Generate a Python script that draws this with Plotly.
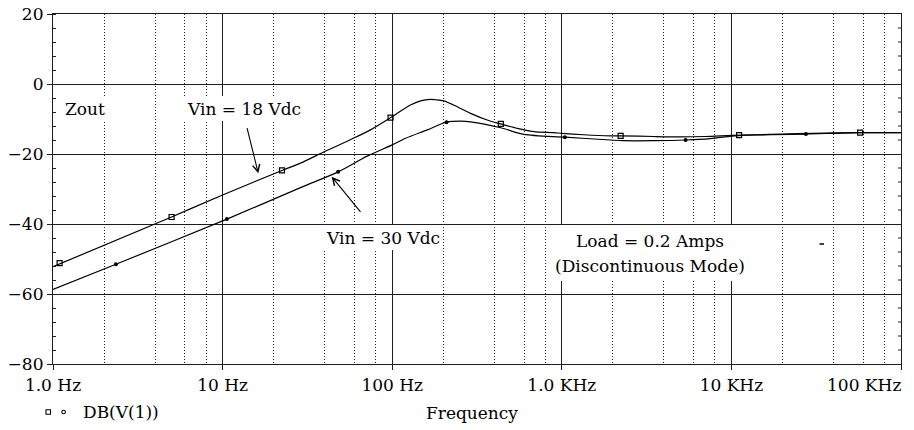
import plotly.graph_objects as go

# ---------------- data ----------------
freq_18 = [1, 5, 10, 22.4, 28.8, 40, 55, 74.5, 98, 128, 147, 168, 180, 201, 242, 290,
           363, 437, 546, 685, 898, 1000, 1350, 1940, 2223, 3500, 5000, 7000, 10000,
           14000, 20000, 30000, 57400, 100000]
db_18 = [-52.2, -38.0, -31.7, -24.7, -22.6, -19.3, -16.2, -13.1, -9.6, -6.0, -4.8, -4.4,
         -4.5, -4.8, -6.5, -8.4, -10.3, -11.4, -12.7, -13.6, -13.9, -14.1, -14.5, -14.8,
         -14.8, -15.0, -15.1, -15.0, -14.7, -14.5, -14.3, -14.1, -13.9, -13.9]

freq_30 = [1, 2.35, 10.6, 28.8, 48, 71.2, 100, 120, 161, 209, 253, 290, 437, 598, 1043,
           1940, 2300, 3500, 5370, 7500, 10000, 12000, 17000, 27500, 57400, 100000]
db_30 = [-58.7, -51.5, -38.6, -29.6, -25.1, -20.6, -17.4, -15.5, -13.1, -10.9, -10.6,
         -10.8, -12.5, -14.4, -15.2, -16.0, -16.2, -16.2, -16.0, -15.6, -14.9, -14.6,
         -14.5, -14.3, -13.9, -13.9]

mark_freq_18 = [1.094, 5.0, 22.4, 97.8, 437, 2223, 11100, 57400]
mark_db_18 = [-51.2, -38.0, -24.7, -9.6, -11.4, -14.8, -14.6, -13.9]
mark_freq_30 = [2.35, 10.6, 48, 209, 1043, 5370, 27500]
mark_db_30 = [-51.5, -38.6, -25.1, -10.9, -15.2, -16.0, -14.3]

x_tick_vals = [1, 10, 100, 1000, 10000, 100000]
x_tick_labels = ["1.0 Hz", "10 Hz", "100 Hz", "1.0 KHz", "10 KHz", "100 KHz"]
x_minor_vals = [m * 10 ** d for d in range(5) for m in (2, 4, 6, 8)]
y_tick_vals = [-80, -60, -40, -20, 0, 20]
y_minor_vals = [v for v in range(-76, 20, 4) if v % 20 != 0]

# ---------------- layout helpers ----------------
# page has an 8px body margin; the figure is sized/offset so the plot area
# lands at page pixels x 53..901, y 14..364
OFF = 8
W, H = 914 - OFF, 430 - OFF
PL, PT, PR, PB = 53, 14, 901, 364          # plot area in page pixels
L, T = PL - OFF, PT - OFF
R, B = W - (PR - OFF), H - (PB - OFF)
PW, PH = PR - PL, PB - PT
FONT = "DejaVu Serif"
AX = "#1e1e1e"


def px(x):
    return (x - PL) / PW


def py(y):
    return (PB - y) / PH


fig = go.Figure()

fig.add_trace(go.Scatter(x=freq_18, y=db_18, mode="lines",
                         line=dict(color="black", width=1.2, shape="spline", smoothing=0.8),
                         showlegend=False, hoverinfo="skip"))
fig.add_trace(go.Scatter(x=freq_30, y=db_30, mode="lines",
                         line=dict(color="black", width=1.2, shape="spline", smoothing=0.8),
                         showlegend=False, hoverinfo="skip"))
fig.add_trace(go.Scatter(x=mark_freq_18, y=mark_db_18, mode="markers",
                         marker=dict(symbol="square-open", size=5, color="black",
                                     line=dict(width=1.2)),
                         showlegend=False, hoverinfo="skip"))
fig.add_trace(go.Scatter(x=mark_freq_30, y=mark_db_30, mode="markers",
                         marker=dict(symbol="circle", size=4, color="black"),
                         showlegend=False, hoverinfo="skip"))

shapes = []
# right-side inside minor ticks
for v in y_minor_vals:
    shapes.append(dict(type="line", xref="paper", yref="y", x0=1, x1=1 - 3 / PW,
                       y0=v, y1=v, line=dict(color=AX, width=1)))
# white boxes behind the labels (break the grid lines as in the reference)
for (x0, x1, y0, y1) in [(61, 108, 97, 120), (183, 304, 96, 121),
                         (323, 443, 225, 250), (548, 752, 225, 281)]:
    shapes.append(dict(type="rect", xref="paper", yref="paper", layer="above",
                       x0=px(x0), x1=px(x1), y0=py(y1), y1=py(y0),
                       fillcolor="white", line=dict(width=0)))
# legend icons
shapes.append(dict(type="rect", xref="paper", yref="paper",
                   x0=px(46), x1=px(50.5), y0=py(414.2), y1=py(409.8),
                   line=dict(color="black", width=1.1)))
shapes.append(dict(type="circle", xref="paper", yref="paper",
                   x0=px(61.8), x1=px(65.4), y0=py(413.8), y1=py(410.2),
                   line=dict(color="black", width=1.1)))
# stray dash
shapes.append(dict(type="line", xref="paper", yref="paper",
                   x0=px(819.5), x1=px(824), y0=py(244), y1=py(244),
                   line=dict(color="black", width=1.5)))

txt = dict(family=FONT, size=17, color="black")


def label(text, x, y, anchor="center"):
    return dict(text=text, x=px(x), y=py(y), xref="paper", yref="paper",
                xanchor=anchor, yanchor="middle", showarrow=False, font=txt)


annotations = [
    label("Zout", 84.5, 108.5),
    label("Vin = 18 Vdc", 243.5, 108.5),
    label("Vin = 30 Vdc", 383, 237.5),
    label("Load = 0.2 Amps", 649.5, 241),
    label("(Discontinuous Mode)", 649.5, 266),
    label(x_tick_labels[-1], 903, 385, "right"),
    label("Frequency", 472, 413),
    label("DB(V(1))", 80.5, 412, "left"),
    # arrows
    dict(text="", x=px(258.3), y=py(173.3), xref="paper", yref="paper",
         ax=-11.6, ay=-46.6, showarrow=True, arrowhead=5, arrowsize=1.3,
         arrowwidth=1.1, arrowcolor="black", standoff=0),
    dict(text="", x=px(331.7), y=py(176.7), xref="paper", yref="paper",
         ax=30, ay=36.6, showarrow=True, arrowhead=5, arrowsize=1.3,
         arrowwidth=1.1, arrowcolor="black", standoff=0),
]

fig.update_layout(
    width=W, height=H,
    margin=dict(l=L, r=R, t=T, b=B, pad=0, autoexpand=False),
    paper_bgcolor="white", plot_bgcolor="white",
    shapes=shapes, annotations=annotations,
    xaxis=dict(type="log", range=[0, 5], tickmode="array", tickvals=x_tick_vals,
               ticktext=x_tick_labels[:-1] + [""], ticks="outside", ticklen=5,
               tickwidth=1.2, tickcolor=AX, showline=True, linecolor=AX, linewidth=1.2,
               mirror=True, showgrid=True, gridcolor=AX, gridwidth=1.2, zeroline=False,
               tickfont=txt, automargin=False, ticklabeloverflow="allow",
               minor=dict(tickmode="array", tickvals=x_minor_vals, showgrid=True,
                          griddash="1px,2px", gridcolor="#222", gridwidth=1, ticks="")),
    yaxis=dict(range=[-80, 20], tickmode="array", tickvals=y_tick_vals, ticks="outside",
               ticklen=5, tickwidth=1.2, tickcolor=AX, showline=True, linecolor=AX,
               linewidth=1.2, mirror=True, showgrid=True, gridcolor=AX, gridwidth=1.2,
               zeroline=False, tickfont=txt, automargin=False, ticklabeloverflow="allow",
               minor=dict(dtick=4, tick0=0, ticks="inside", ticklen=3, tickwidth=1,
                          tickcolor=AX, showgrid=False)),
)

fig.write_html("out.html")
